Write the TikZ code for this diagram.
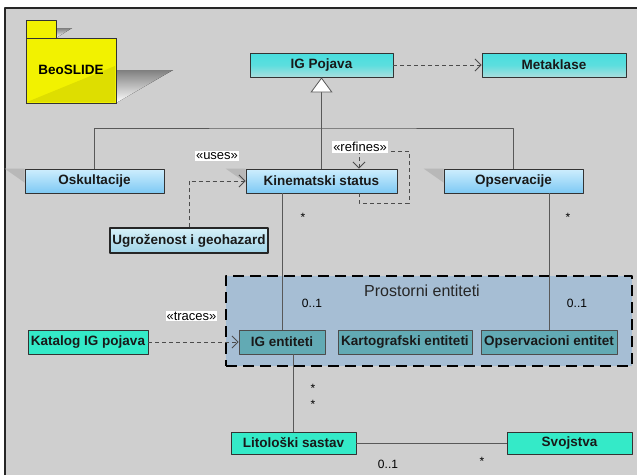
\documentclass[tikz,border=0pt]{standalone}
\usepackage{fontspec}
\setmainfont{Liberation Sans}
\usetikzlibrary{arrows.meta,positioning}
\usepackage{xcolor}
\definecolor{bggray}{RGB}{207,207,207}
\definecolor{cyantop}{RGB}{72,222,222}
\definecolor{cyanbot}{RGB}{170,222,222}
\definecolor{bluetop}{RGB}{206,238,253}
\definecolor{bluebot}{RGB}{126,201,244}
\definecolor{paletop}{RGB}{214,240,248}
\definecolor{palebot}{RGB}{160,212,232}
\definecolor{tealbox}{RGB}{98,170,180}
\definecolor{aqua}{RGB}{52,234,200}
\definecolor{pkgfill}{RGB}{166,190,212}
\definecolor{folderyel}{RGB}{242,242,0}
\definecolor{folderdark}{RGB}{222,222,0}
\definecolor{shade}{RGB}{60,60,60}
\definecolor{wedge}{RGB}{184,184,184}

\begin{document}
\begin{tikzpicture}[x=1pt,y=-1pt,line join=round]
  \tikzstyle{cls}=[draw=black!80,line width=0.9pt,inner sep=0pt,minimum height=24pt,
    text=black!90,font=\fontsize{13.5}{15}\selectfont\bfseries]
  \tikzstyle{cyanbox}=[cls,top color=cyantop,bottom color=cyanbot,middle color=cyantop!80!cyanbot]
  \tikzstyle{bluebox}=[cls,top color=bluetop,bottom color=bluebot]
  \tikzstyle{palebox}=[cls,line width=1.4pt,draw=black!85,top color=paletop,bottom color=palebot]
  \tikzstyle{tealent}=[cls,fill=tealbox,draw=black!70]
  \tikzstyle{aquabox}=[cls,fill=aqua,minimum height=22pt]
  \tikzstyle{assoc}=[draw=black!65,line width=0.8pt]
  \tikzstyle{dep}=[draw=black!70,line width=0.8pt,dash pattern=on 4pt off 3pt,
    -{Straight Barb[length=6pt,width=12pt]}]
  \tikzstyle{stereo}=[fill=white,inner sep=1pt,font=\fontsize{13}{15}\selectfont]
  \tikzstyle{mult}=[inner sep=0pt,font=\fontsize{12}{14}\selectfont]

  \useasboundingbox (0,0) rectangle (637,475);
  \fill[white] (0,0) rectangle (637,475);
  \fill[bggray] (5,8) rectangle (637,475);
  \draw[black!85,line width=1.5pt] (5,475) -- (5,8) -- (637,8);

  % package BeoSLIDE
  \fill[shade] (56,28) -- (72,28) -- (56,38) -- cycle;
  \fill[shade] (116,70) -- (173,70) -- (116,103) -- cycle;
  \filldraw[draw=black!80,fill=folderyel] (26,20) rectangle (56,38);
  \filldraw[draw=black!80,fill=folderyel] (26,38) rectangle (116,103);
  \fill[folderdark] (27,102) -- (115,102) -- (115,66) -- cycle;
  \draw[black!80,line width=0.9pt] (26,38) rectangle (116,103);
  \node[font=\fontsize{13.5}{15}\selectfont\bfseries] (BS) at (71,70) {BeoSLIDE};

  % package Prostorni entiteti
  \node[draw=black,fill=pkgfill,line width=2.5pt,dash pattern=on 11pt off 6pt,
    minimum width=406pt,minimum height=90pt,inner sep=0pt] (PE) at (429,321) {};
  \node[font=\fontsize{16}{18}\selectfont,text=black!85] (PEt) at (422,291) {Prostorni entiteti};

  % classes
  \node[cyanbox,minimum width=143pt] (IGP) at (321.5,65)  {IG Pojava};
  \node[cyanbox,minimum width=144pt] (MK)  at (554,65)    {Metaklase};
  \node[bluebox,minimum width=139pt] (OSK) at (94.5,181)  {Oskultacije};
  \node[bluebox,minimum width=151pt] (KIN) at (321.5,181) {Kinematski status};
  \node[bluebox,minimum width=139pt] (OPS) at (513.5,181) {Opservacije};
  \node[palebox,minimum width=158pt,minimum height=25pt] (UGR) at (189,240.5) {Ugroženost i geohazard};
  \node[tealent,minimum width=86pt]  (IGE)  at (282,342) {IG entiteti};
  \node[tealent,minimum width=134pt] (KART) at (405,342) {Kartografski entiteti};
  \node[tealent,minimum width=136pt] (OPSE) at (549,342) {Opservacioni entitet};
  \node[aquabox,minimum width=120pt,minimum height=24pt] (KAT) at (88,342) {Katalog IG pojava};
  \node[aquabox,minimum width=125pt] (LIT) at (293.5,443) {Litološki sastav};
  \node[aquabox,minimum width=125pt] (SVO) at (569.5,443) {Svojstva};

  % wedges on the left of the blue classes
  \foreach \n in {OSK,KIN,OPS}
    \fill[wedge] (\n.north west) -- ++(-20,0) -- ++(20,14) -- cycle;

  % generalization
  \coordinate (J) at (321.5,128);
  \path[assoc] (OSK.north) |- (J) -| (OPS.north);
  \path[assoc,-{Triangle[length=15pt,width=22pt,fill=white]}] (KIN.north) -- (IGP.south);

  % associations
  \path[assoc] (KIN.south -| IGE.north) -- (IGE.north);
  \path[assoc] (OPS.south -| OPSE.north) -- (OPSE.north);
  \path[assoc] (IGE.south -| LIT.north) -- (LIT.north);
  \path[assoc] (LIT) -- (SVO);

  % dependencies
  \path[dep] (IGP) -- (MK);
  \path[dep] (UGR.north) |- (KIN.west);
  \path[dep] (KAT) -- (IGE);
  \coordinate (Rb) at (409,203);
  \coordinate (Rt) at (409,151);
  \path[dep] ([xshift=37.5pt]KIN.south) |- (Rb) -- (Rt) -| ([xshift=37.5pt]KIN.north);

  % stereotypes
  \node[stereo] (uses)   at (217,156)   {«uses»};
  \node[stereo] (refin)  at (360,147)   {«refines»};
  \node[stereo] (traces) at (191.5,316) {«traces»};

  % multiplicities
  \node[mult] (m1) at (303,217) {*};
  \node[mult] (m2) at (568,217) {*};
  \node[mult] (m3) at (312,303) {0..1};
  \node[mult] (m4) at (577,303) {0..1};
  \node[mult] (m5) at (313,388) {*};
  \node[mult] (m6) at (313,404) {*};
  \node[mult] (m7) at (388,464) {0..1};
  \node[mult] (m8) at (482,461) {*};
\end{tikzpicture}
\end{document}
